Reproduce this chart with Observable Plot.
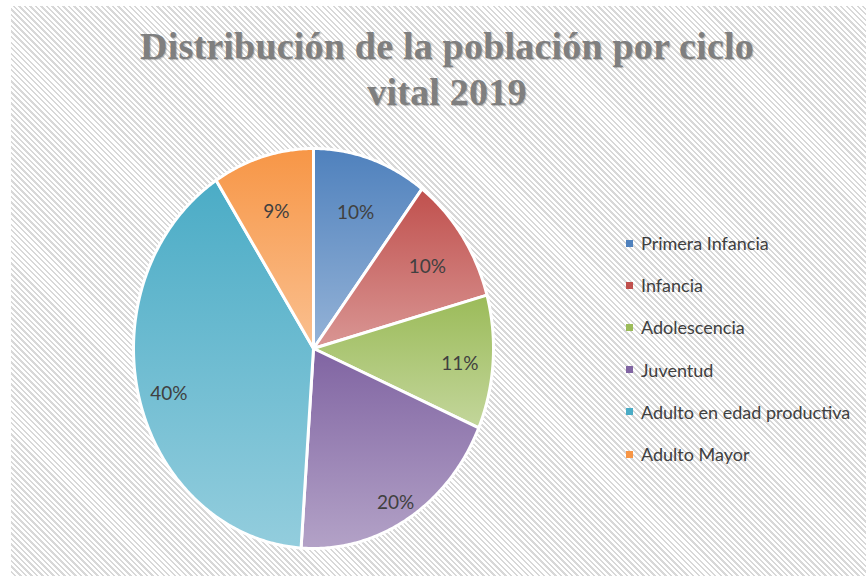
<!DOCTYPE html>
<html><head><meta charset="utf-8">
<script src="https://cdn.jsdelivr.net/npm/d3@7"></script>
<script src="https://cdn.jsdelivr.net/npm/@observablehq/plot@0.6"></script>
<style>
body{margin:0;background:#fff;}
#wrap{position:relative;width:866px;height:576px;overflow:hidden;background:#fff;}
#bg{position:absolute;left:11px;top:6px;right:0;bottom:0;
  background:repeating-linear-gradient(45deg,#ffffff 0px,#ffffff 2.2px,#d8d8d8 2.2px,#d8d8d8 3.9px);}
#title{position:absolute;left:28px;width:838px;top:23px;text-align:center;
  font-family:"Liberation Serif",serif;font-weight:bold;font-size:38px;line-height:46px;letter-spacing:0.2px;
  color:#7f7f7f;text-shadow:1px 1px 1px rgba(0,0,0,0.25);}
#legend{position:absolute;left:622px;top:222px;font-family:Lato,sans-serif;font-size:18px;color:#404040;}
.item{height:42.2px;display:flex;align-items:center;}
.sw{width:7px;height:7px;margin-left:4px;margin-right:8px;}
#chart{position:absolute;left:0;top:0;}
</style>
</head><body>
<div id="wrap">
  <div id="bg"></div>
  <div id="title">Distribución de la población por ciclo<br>vital 2019</div>
  <div id="chart"></div>
  <div id="legend"></div>
</div>
<script>
const categories = ["Primera Infancia","Infancia","Adolescencia","Juventud","Adulto en edad productiva","Adulto Mayor"];
const values = [10.3, 10.4, 10.8, 19.6, 39.8, 9.1];
const labels = ["10%","10%","11%","20%","40%","9%"];

// style: [top, bottom] gradient colours and legend swatch colour
const palette = [
  ["#4f81bd","#95b3d7"],
  ["#c0504d","#d99694"],
  ["#9bbb59","#c3d69b"],
  ["#8064a2","#b3a2c7"],
  ["#4bacc6","#93cddd"],
  ["#f79646","#fac090"]
];

const arcs = d3.pie().sort(null).value(d => d)(values);
const slicePts = [];
arcs.forEach((a, i) => {
  slicePts.push({i, name: categories[i], x: 0, y: 0});
  const n = Math.max(2, Math.ceil((a.endAngle - a.startAngle) / 0.01));
  for (let k = 0; k <= n; k++) {
    const t = a.startAngle + (a.endAngle - a.startAngle) * k / n;
    slicePts.push({i, name: categories[i], x: Math.sin(t), y: Math.cos(t)});
  }
});
const labelRows = arcs.map((a, i) => {
  const m = (a.startAngle + a.endAngle) / 2;
  const r = 0.81 - 0.08 * Math.cos(m);
  return {x: r * Math.sin(m), y: r * Math.cos(m), text: labels[i]};
});

const chart = Plot.plot({
  width: 866, height: 576,
  margin: 0,
  x: {domain: [-1, 1], range: [133, 493], axis: null},
  y: {domain: [-1, 1], range: [548, 148], axis: null},
  color: {type: "identity"},
  style: {background: "transparent", overflow: "visible"},
  marks: [
    Plot.line(slicePts, {x: "x", y: "y", z: "name", fill: d => `url(#grad${d.i})`,
      stroke: "white", strokeWidth: 3, curve: "linear-closed", strokeLinejoin: "round"}),
    Plot.text(labelRows, {x: "x", y: "y", text: "text", fill: "#404040", dy: 4,
      fontSize: 19, fontFamily: "Lato, sans-serif"})
  ]
});
const defs = d3.select(chart).insert("defs", ":first-child");
palette.forEach((p, i) => {
  const g = defs.append("linearGradient").attr("id", "grad" + i)
    .attr("x1", 0).attr("y1", 0).attr("x2", 0).attr("y2", 1);
  g.append("stop").attr("offset", "0%").attr("stop-color", p[0]);
  g.append("stop").attr("offset", "100%").attr("stop-color", p[1]);
});
document.getElementById("chart").appendChild(chart);

const legend = d3.select("#legend");
categories.forEach((c, i) => {
  const it = legend.append("div").attr("class", "item");
  it.append("div").attr("class", "sw").style("background", palette[i][0]);
  it.append("span").text(c);
});
</script>
</body></html>
